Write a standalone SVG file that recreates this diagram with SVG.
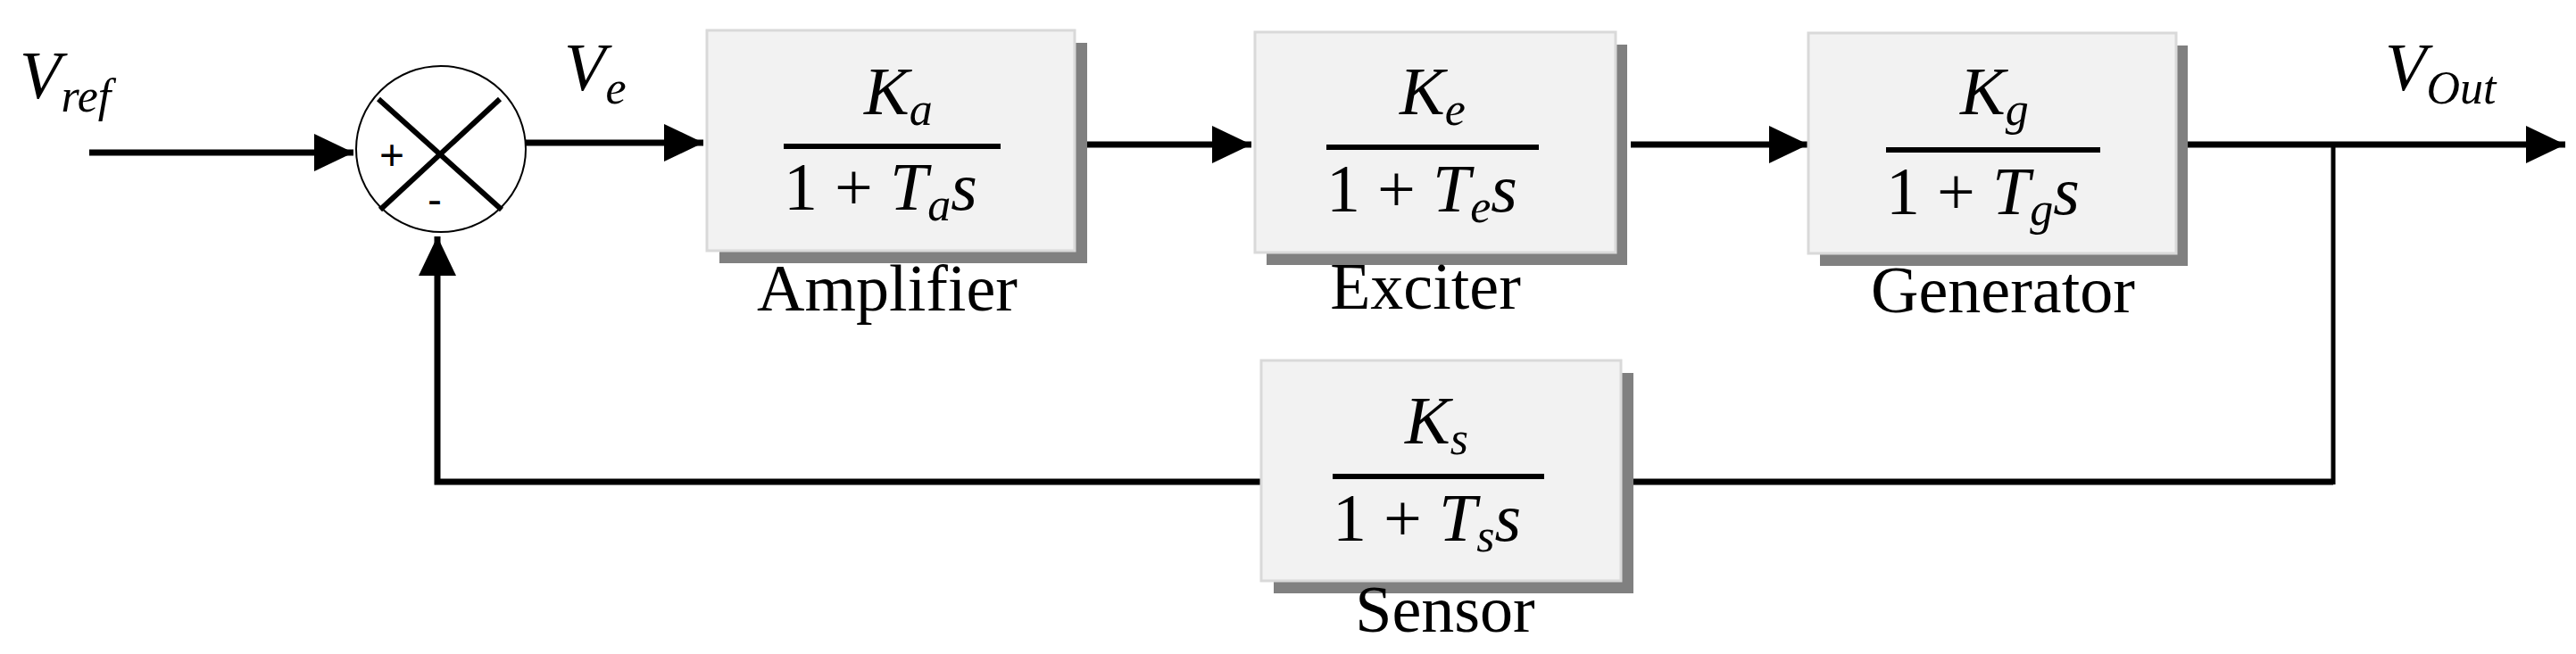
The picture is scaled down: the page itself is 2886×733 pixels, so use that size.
<svg xmlns="http://www.w3.org/2000/svg" width="2886" height="733" viewBox="0 0 2886 733">
<style>
.box{fill:#f2f2f2;stroke:#d9d9d9;stroke-width:3}
.sh{fill:#808080}
.ln{stroke:#000;stroke-width:7;fill:none}
.fr{stroke:#000;stroke-width:6}
.m{font-family:"Liberation Serif",serif;font-style:italic;font-size:76px}
.n{font-family:"Liberation Serif",serif;font-size:76px}
.sub{font-size:52px}
.lbl{font-family:"Liberation Serif",serif;font-size:74px;text-anchor:middle}
</style>
<defs>
<marker id="ar" markerUnits="userSpaceOnUse" markerWidth="44" markerHeight="42" refX="44" refY="21" orient="auto"><path d="M0,0L44,21L0,42z" fill="#000"/></marker>
</defs>
<rect width="2886" height="733" fill="#fff"/>
<g id="connectors">
<line class="ln" x1="100" y1="171" x2="396" y2="171" marker-end="url(#ar)"/>
<line class="ln" x1="589" y1="160" x2="788" y2="160" marker-end="url(#ar)"/>
<line class="ln" x1="1203" y1="162" x2="1402" y2="162" marker-end="url(#ar)"/>
<line class="ln" x1="1827" y1="162" x2="2026" y2="162" marker-end="url(#ar)"/>
<line class="ln" x1="2440" y1="162" x2="2874" y2="162" marker-end="url(#ar)"/>
<line x1="2614" y1="162" x2="2614" y2="543" stroke="#000" stroke-width="5"/>
<line class="ln" x1="2614" y1="540" x2="1830" y2="540"/>
<polyline class="ln" points="1413,540 490,540 490,265" marker-end="url(#ar)"/>
</g>
<g id="sum">
<ellipse cx="494" cy="167" rx="95" ry="93" fill="#fff" stroke="#000" stroke-width="2"/>
<line x1="424" y1="111" x2="562" y2="235" stroke="#000" stroke-width="6"/>
<line x1="560" y1="111" x2="426" y2="235" stroke="#000" stroke-width="6"/>
<text x="439" y="190" font-family="Liberation Sans,sans-serif" font-size="48" text-anchor="middle">+</text>
<text x="487" y="240" font-family="Liberation Sans,sans-serif" font-size="48" text-anchor="middle">-</text>
</g>
<g id="vref"><text class="m" x="22" y="110">V<tspan class="sub" dy="15">ref</tspan></text></g>
<g id="ve"><text class="m" x="632" y="101">V<tspan class="sub" dy="15">e</tspan></text></g>
<g id="vout"><text class="m" x="2672" y="101">V<tspan class="sub" dy="15">Out</tspan></text></g>
<g id="amplifier">
<rect class="sh" x="806" y="48" width="412" height="247"/>
<rect class="box" x="792" y="34" width="412" height="247"/>
<line class="fr" x1="878" y1="164" x2="1121" y2="164"/>
<text class="m" x="968" y="128">K<tspan class="sub" dy="12">a</tspan></text>
<text class="n" x="878" y="235">1 + <tspan font-style="italic">T</tspan><tspan class="m sub" dy="12">a</tspan><tspan font-style="italic" dy="-12">s</tspan></text>
<text class="lbl" x="994" y="348">Amplifier</text>
</g>
<g id="exciter">
<rect class="sh" x="1419" y="50" width="404" height="247"/>
<rect class="box" x="1406" y="36" width="404" height="247"/>
<line class="fr" x1="1486" y1="165" x2="1724" y2="165"/>
<text class="m" x="1568" y="128">K<tspan class="sub" dy="12">e</tspan></text>
<text class="n" x="1486" y="237">1 + <tspan font-style="italic">T</tspan><tspan class="m sub" dy="12">e</tspan><tspan font-style="italic" dy="-12">s</tspan></text>
<text class="lbl" x="1597" y="346">Exciter</text>
</g>
<g id="generator">
<rect class="sh" x="2039" y="51" width="412" height="247"/>
<rect class="box" x="2026" y="37" width="412" height="247"/>
<line class="fr" x1="2113" y1="168" x2="2353" y2="168"/>
<text class="m" x="2196" y="128">K<tspan class="sub" dy="12">g</tspan></text>
<text class="n" x="2113" y="240">1 + <tspan font-style="italic">T</tspan><tspan class="m sub" dy="12">g</tspan><tspan font-style="italic" dy="-12">s</tspan></text>
<text class="lbl" x="2244" y="350">Generator</text>
</g>
<g id="sensor">
<rect class="sh" x="1427" y="418" width="403" height="247"/>
<rect class="box" x="1413" y="404" width="403" height="247"/>
<line class="fr" x1="1493" y1="534" x2="1730" y2="534"/>
<text class="m" x="1574" y="497">K<tspan class="sub" dy="12">s</tspan></text>
<text class="n" x="1493" y="606">1 + <tspan font-style="italic">T</tspan><tspan class="m sub" dy="12">s</tspan><tspan font-style="italic" dy="-12">s</tspan></text>
<text class="lbl" x="1619" y="708">Sensor</text>
</g>
</svg>
